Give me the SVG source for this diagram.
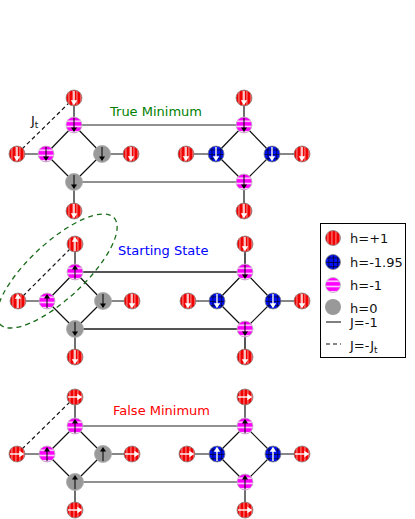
<svg xmlns="http://www.w3.org/2000/svg" xmlns:xlink="http://www.w3.org/1999/xlink" width="415" height="519" viewBox="0 0 415 519">
<style>
.e{stroke:#111;stroke-width:1.2;fill:none}
.h{stroke:#222;stroke-width:1.2;fill:none}
.hb{stroke:#555;stroke-width:2;fill:none}
.d{stroke:#111;stroke-width:1.2;stroke-dasharray:4 3;fill:none}
.t{font-family:"DejaVu Sans","Liberation Sans",sans-serif;font-size:13px}
.lg{font-family:"DejaVu Sans","Liberation Sans",sans-serif;font-size:13px;fill:#111}
</style>
<defs>
<pattern id="pRed" patternUnits="userSpaceOnUse" x="-8" y="-8" width="4" height="16"><rect width="4" height="16" fill="#f00000"/><rect x="2.6" width="0.7" height="16" fill="#ffd0d0"/></pattern>
<pattern id="pPink" patternUnits="userSpaceOnUse" x="-8" y="-8" width="16" height="5.2"><rect width="16" height="5.2" fill="#ff00ff"/><rect y="3.6" width="16" height="1.3" fill="#fff"/></pattern>
<pattern id="pBlue" patternUnits="userSpaceOnUse" x="-8" y="-8" width="4.4" height="4.4"><rect width="4.4" height="4.4" fill="#0010f0"/><rect x="3.8" width="0.6" height="4.4" fill="#000"/><rect y="3.8" width="4.4" height="0.6" fill="#000"/></pattern>
<circle id="sRed" r="8" fill="url(#pRed)" stroke="#888" stroke-width="0.8"/>
<circle id="sPink" r="8" fill="url(#pPink)" stroke="#bbb" stroke-width="0.8"/>
<circle id="sBlue" r="8" fill="url(#pBlue)" stroke="#888" stroke-width="0.8"/>
<circle id="sGray" r="8.5" fill="#999" stroke="#aaa" stroke-width="0.8"/>
<g id="aW"><line x1="0" y1="-7" x2="0" y2="3" stroke="#fff" stroke-width="1.4"/><path d="M-3.2 2.3 L3.2 2.3 L0 7.2 Z" fill="#fff"/></g>
<g id="aB"><line x1="0" y1="-7" x2="0" y2="3" stroke="#000" stroke-width="1"/><path d="M-3 2.5 L3 2.5 L0 7 Z" fill="#000"/></g>
</defs>
<rect width="415" height="519" fill="#fff"/>

<g id="connectors">
<path class="e" d="M74 98V125 M74 125L46 154 M74 125L102 154 M46 154L74 182 M102 154L74 182 M17 154H46 M102 154H131 M74 182V211"/>
<path class="e" d="M244 98V125 M244 125L216 154 M244 125L272 154 M216 154L244 182 M272 154L244 182 M186 154H216 M272 154H302 M244 182V211"/>
<path class="h" d="M74 125H244 M74 182H244"/>
<path class="d" d="M17 154L74 98"/>
<path class="e" d="M75 244V272 M75 272L47 301 M75 272L103 301 M47 301L75 329 M103 301L75 329 M18 301H47 M103 301H132 M75 329V357"/>
<path class="e" d="M245 272L217 301 M245 272L273 301 M217 301L245 329 M273 301L245 329 M188 301H217 M273 301H302"/>
<path class="hb" d="M245 244V272 M245 329V357"/>
<path class="hb" d="M75 272H245 M75 329H245"/>
<path class="d" d="M18 301L75 244"/>
<ellipse cx="57" cy="271" rx="78" ry="28" transform="rotate(-43 57 271)" fill="none" stroke="#1a6b1a" stroke-width="1.3" stroke-dasharray="5 4"/>
<path class="e" d="M75 397V426 M75 426L47 454 M75 426L103 454 M47 454L75 482 M103 454L75 482 M17 454H47 M103 454H132 M75 482V510"/>
<path class="e" d="M245 397V426 M245 426L217 454 M245 426L273 454 M217 454L245 482 M273 454L245 482 M187 454H217 M273 454H302 M245 482V510"/>
<path class="h" d="M75 426H245 M75 482H245"/>
<path class="d" d="M17 454L75 397"/>
</g>

<g id="A-L-rt" transform="translate(74 98)"><use href="#sRed"/><use href="#aW"/></g>
<g id="A-L-pt" transform="translate(74 125)"><use href="#sPink"/><use href="#aB"/></g>
<g id="A-L-pl" transform="translate(46 154)"><use href="#sPink"/><use href="#aB"/></g>
<g id="A-L-rl" transform="translate(17 154)"><use href="#sRed"/><use href="#aW"/></g>
<g id="A-L-gr" transform="translate(102 154)"><use href="#sGray"/><use href="#aB"/></g>
<g id="A-L-rr" transform="translate(131 154)"><use href="#sRed"/><use href="#aW"/></g>
<g id="A-L-gb" transform="translate(74 182)"><use href="#sGray"/><use href="#aB"/></g>
<g id="A-L-rb" transform="translate(74 211)"><use href="#sRed"/><use href="#aW"/></g>
<g id="A-R-rt" transform="translate(244 98)"><use href="#sRed"/><use href="#aW"/></g>
<g id="A-R-pt" transform="translate(244 125)"><use href="#sPink"/><use href="#aB"/></g>
<g id="A-R-bl" transform="translate(216 154)"><use href="#sBlue"/><use href="#aW"/></g>
<g id="A-R-rl" transform="translate(186 154)"><use href="#sRed"/><use href="#aW"/></g>
<g id="A-R-br" transform="translate(272 154)"><use href="#sBlue"/><use href="#aW"/></g>
<g id="A-R-rr" transform="translate(302 154)"><use href="#sRed"/><use href="#aW"/></g>
<g id="A-R-pb" transform="translate(244 182)"><use href="#sPink"/><use href="#aB"/></g>
<g id="A-R-rb" transform="translate(244 211)"><use href="#sRed"/><use href="#aW"/></g>

<g id="B-L-rt" transform="translate(75 244)"><use href="#sRed"/><use href="#aW" transform="rotate(180)"/></g>
<g id="B-L-pt" transform="translate(75 272)"><use href="#sPink"/><use href="#aB" transform="rotate(180)"/></g>
<g id="B-L-pl" transform="translate(47 301)"><use href="#sPink"/><use href="#aB" transform="rotate(180)"/></g>
<g id="B-L-rl" transform="translate(18 301)"><use href="#sRed"/><use href="#aW" transform="rotate(180)"/></g>
<g id="B-L-gr" transform="translate(103 301)"><use href="#sGray"/><use href="#aB"/></g>
<g id="B-L-rr" transform="translate(132 301)"><use href="#sRed"/><use href="#aW"/></g>
<g id="B-L-gb" transform="translate(75 329)"><use href="#sGray"/><use href="#aB"/></g>
<g id="B-L-rb" transform="translate(75 357)"><use href="#sRed"/><use href="#aW"/></g>
<g id="B-R-rt" transform="translate(245 244)"><use href="#sRed"/><use href="#aW"/></g>
<g id="B-R-pt" transform="translate(245 272)"><use href="#sPink"/><use href="#aB"/></g>
<g id="B-R-bl" transform="translate(217 301)"><use href="#sBlue"/><use href="#aW"/></g>
<g id="B-R-rl" transform="translate(188 301)"><use href="#sRed"/><use href="#aW"/></g>
<g id="B-R-br" transform="translate(273 301)"><use href="#sBlue"/><use href="#aW"/></g>
<g id="B-R-rr" transform="translate(302 301)"><use href="#sRed"/><use href="#aW"/></g>
<g id="B-R-pb" transform="translate(245 329)"><use href="#sPink"/><use href="#aB"/></g>
<g id="B-R-rb" transform="translate(245 357)"><use href="#sRed"/><use href="#aW"/></g>

<g id="C-L-rt" transform="translate(75 397)"><use href="#sRed"/><use href="#aW" transform="rotate(-90)"/></g>
<g id="C-L-pt" transform="translate(75 426)"><use href="#sPink"/><use href="#aB" transform="rotate(180)"/></g>
<g id="C-L-pl" transform="translate(47 454)"><use href="#sPink"/><use href="#aB" transform="rotate(180)"/></g>
<g id="C-L-rl" transform="translate(17 454)"><use href="#sRed"/><use href="#aW" transform="rotate(-90)"/></g>
<g id="C-L-gr" transform="translate(103 454)"><use href="#sGray"/><use href="#aB" transform="rotate(180)"/></g>
<g id="C-L-rr" transform="translate(132 454)"><use href="#sRed"/><use href="#aW" transform="rotate(-90)"/></g>
<g id="C-L-gb" transform="translate(75 482)"><use href="#sGray"/><use href="#aB" transform="rotate(180)"/></g>
<g id="C-L-rb" transform="translate(75 510)"><use href="#sRed"/><use href="#aW" transform="rotate(-90)"/></g>
<g id="C-R-rt" transform="translate(245 397)"><use href="#sRed"/><use href="#aW" transform="rotate(-90)"/></g>
<g id="C-R-pt" transform="translate(245 426)"><use href="#sPink"/><use href="#aB" transform="rotate(180)"/></g>
<g id="C-R-bl" transform="translate(217 454)"><use href="#sBlue"/><use href="#aW" transform="rotate(180)"/></g>
<g id="C-R-rl" transform="translate(187 454)"><use href="#sRed"/><use href="#aW" transform="rotate(-90)"/></g>
<g id="C-R-br" transform="translate(273 454)"><use href="#sBlue"/><use href="#aW" transform="rotate(180)"/></g>
<g id="C-R-rr" transform="translate(302 454)"><use href="#sRed"/><use href="#aW" transform="rotate(-90)"/></g>
<g id="C-R-pb" transform="translate(245 482)"><use href="#sPink"/><use href="#aB" transform="rotate(180)"/></g>
<g id="C-R-rb" transform="translate(245 510)"><use href="#sRed"/><use href="#aW" transform="rotate(-90)"/></g>

<g id="labels">
<text class="t" x="110" y="116" fill="#008000">True Minimum</text>
<text class="t" x="118" y="255" fill="#0000ff">Starting State</text>
<text class="t" x="113" y="415" fill="#ff0000">False Minimum</text>
<text class="t" x="31" y="125" fill="#111">J<tspan font-size="9" dy="3">t</tspan></text>
</g>

<g id="legend">
<rect x="320.5" y="223.5" width="85" height="134" fill="#fff" stroke="#000" stroke-width="1"/>
<g transform="translate(333 238)"><circle r="7.5" fill="url(#pRed)" stroke="#888" stroke-width="0.8"/></g>
<text class="lg" x="350" y="243">h=+1</text>
<g transform="translate(333 262)"><circle r="7.5" fill="url(#pBlue)" stroke="#888" stroke-width="0.8"/></g>
<text class="lg" x="350" y="267">h=-1.95</text>
<g transform="translate(333 285)"><circle r="7.5" fill="url(#pPink)" stroke="#bbb" stroke-width="0.8"/></g>
<text class="lg" x="350" y="290">h=-1</text>
<g transform="translate(333 307)"><circle r="8" fill="#999"/></g>
<text class="lg" x="350" y="313">h=0</text>
<line x1="326" y1="322" x2="341" y2="322" stroke="#555" stroke-width="1.5"/>
<text class="lg" x="350" y="327">J=-1</text>
<line x1="326" y1="344" x2="341" y2="344" stroke="#111" stroke-width="1.2" stroke-dasharray="4 3"/>
<text class="lg" x="350" y="350">J=-J<tspan font-size="9" dy="3">t</tspan></text>
</g>
</svg>
